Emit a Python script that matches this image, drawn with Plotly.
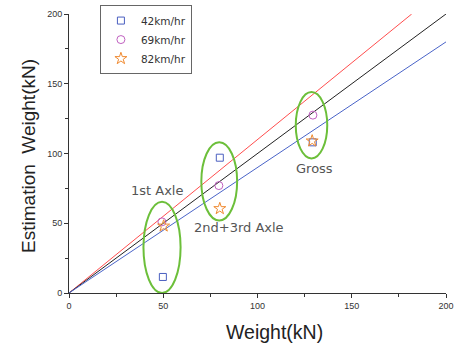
import plotly.graph_objects as go

# Data
axle_groups = ["1st Axle", "2nd+3rd Axle", "Gross"]
weight_42 = [49.8, 80, 129.3]
est_42 = [11.5, 97, 108]
weight_69 = [49.3, 79.5, 129.4]
est_69 = [51, 77, 127.5]
weight_82 = [50.2, 80, 129]
est_82 = [48, 60.5, 109]

# reference lines (slopes)
line_x_end = [181.8, 200, 200]
line_slopes = [1.1, 1.0, 0.9]
line_colors = ["#ff4d4d", "#222222", "#4a64c8"]

# ellipses: x0, x1, y0, y1
ellipse_x0 = [39.5, 70.2, 120.3]
ellipse_x1 = [59.2, 89.2, 137.0]
ellipse_y0 = [0, 52, 96.5]
ellipse_y1 = [65.5, 108, 144]

label_x = [46.9, 90.2, 130.5]
label_y = [73.8, 46.6, 88.9]

fig = go.Figure()

for xe, s, c in zip(line_x_end, line_slopes, line_colors):
    fig.add_trace(go.Scatter(x=[0, xe], y=[0, xe * s], mode="lines",
                             line=dict(color=c, width=1), showlegend=False,
                             hoverinfo="skip"))

fig.add_trace(go.Scatter(x=weight_42, y=est_42, mode="markers", name="42km/hr",
                         marker=dict(symbol="square-open", size=7, color="#4a5fc0",
                                     line=dict(width=1))))
fig.add_trace(go.Scatter(x=weight_69, y=est_69, mode="markers", name="69km/hr",
                         marker=dict(symbol="circle-open", size=8, color="#c060c0",
                                     line=dict(width=1))))
fig.add_trace(go.Scatter(x=weight_82, y=est_82, mode="markers", name="82km/hr",
                         marker=dict(symbol="star-open", size=9, color="#f08a30",
                                     line=dict(width=1))))

for x0, x1, y0, y1 in zip(ellipse_x0, ellipse_x1, ellipse_y0, ellipse_y1):
    fig.add_shape(type="circle", xref="x", yref="y", x0=x0, x1=x1, y0=y0, y1=y1,
                  line=dict(color="#6cbf3a", width=2))

for t, x, y in zip(axle_groups, label_x, label_y):
    fig.add_annotation(x=x, y=y, text=t, showarrow=False,
                       font=dict(family="DejaVu Sans", size=13, color="#555555"))

# axis titles as annotations for precise placement
fig.add_annotation(xref="paper", yref="paper", x=0.544, y=-0.14, text="Weight(kN)",
                   showarrow=False, xanchor="center", yanchor="middle",
                   font=dict(family="Arial, Liberation Sans", size=19.5, color="#222222"))
fig.add_annotation(xref="paper", yref="paper", x=-0.109, y=0.491,
                   text="Estimation  Weight(kN)", textangle=-90,
                   showarrow=False, xanchor="center", yanchor="middle",
                   font=dict(family="Arial, Liberation Sans", size=19, color="#222222"))

axis_common = dict(showgrid=False, zeroline=False, showline=True, linecolor="#333333",
                   linewidth=1, ticks="outside", ticklen=4, tickcolor="#333333",
                   tickfont=dict(family="Arial, Liberation Sans", size=9, color="#333333"),
                   minor=dict(ticks="outside", ticklen=3, dtick=25, tickcolor="#333333"),
                   dtick=50, tick0=0, automargin=False)

fig.update_xaxes(range=[0, 200], **axis_common)
fig.update_yaxes(range=[0, 200], **axis_common)

fig.update_layout(
    width=455, height=347,
    margin=dict(l=69, r=9, t=14, b=54, autoexpand=False),
    plot_bgcolor="white", paper_bgcolor="white",
    legend=dict(x=0.082, y=1.032, xanchor="left", yanchor="top",
                bordercolor="#666666", borderwidth=1, bgcolor="white",
                font=dict(family="DejaVu Sans", size=10.5, color="#333333"),
                tracegroupgap=0, itemwidth=30),
    showlegend=True,
)

fig.write_html("out.html", config={"displayModeBar": False},
               post_script="document.body.style.margin='0';")
